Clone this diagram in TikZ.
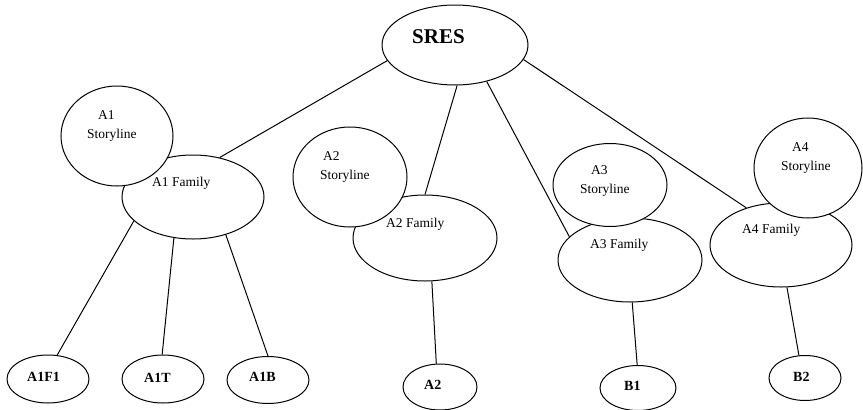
\documentclass[tikz,border=0pt]{standalone}
\usepackage{fontspec}
\setmainfont{Liberation Serif}
\usetikzlibrary{shapes.geometric}
\begin{document}
\begin{tikzpicture}[x=1pt,y=-1pt,
  oval/.style={draw,ellipse,line width=1pt,fill=white,inner sep=0pt},
  txt/.style={anchor=base west,inner sep=0pt,font=\fontsize{13.5}{15}\selectfont},
  btxt/.style={anchor=base west,inner sep=0pt,font=\fontsize{14}{16}\selectfont\bfseries},
  link/.style={line width=1pt}]
\useasboundingbox (0,0) rectangle (863,410);
% families
\node[oval,minimum width=146pt,minimum height=80pt] (sres) at (455,45) {};
\node[oval,minimum width=142pt,minimum height=84pt] (a1f) at (193,197) {};
\node[oval,minimum width=144pt,minimum height=86pt] (a2f) at (425,238) {};
\node[oval,minimum width=144pt,minimum height=84pt] (a3f) at (630,260) {};
\node[oval,minimum width=142pt,minimum height=84pt] (a4f) at (781,245) {};
% storylines
\node[oval,minimum width=112pt,minimum height=100pt] (a1s) at (117,136) {};
\node[oval,minimum width=114pt,minimum height=100pt] (a2s) at (350,177) {};
\node[oval,minimum width=114pt,minimum height=83pt] (a3s) at (610,185) {};
\node[oval,minimum width=108pt,minimum height=100pt] (a4s) at (808,168) {};
% leaves
\node[oval,minimum width=82pt,minimum height=48pt] (a1f1) at (48,379) {};
\node[oval,minimum width=82pt,minimum height=48pt] (a1t) at (163,379) {};
\node[oval,minimum width=82pt,minimum height=47pt] (a1b) at (268,380) {};
\node[oval,minimum width=74pt,minimum height=46pt] (a2) at (440,387) {};
\node[oval,minimum width=76pt,minimum height=45pt] (b1) at (638,388) {};
\node[oval,minimum width=72pt,minimum height=45pt] (b2) at (805,378) {};
% connectors
\draw[link] (sres.193) -- (a1f.56);
\draw[link] (sres.273) -- (a2f.90);
\draw[link] (sres.311) -- (a3f.159);
\draw[link] (sres.348) -- (a4f.133);
\draw[link] (a1f.202) -- (a1f1.69);
\draw[link] (a1f.245) -- (a1t.92);
\draw[link] (a1f.311) -- (a1b.90);
\draw[link] (a2f.279) -- (a2.99);
\draw[link] (a3f.273) -- (b1.92);
\draw[link] (a4f.278) -- (b2.105);
% texts
\node[anchor=base west,inner sep=0pt,font=\fontsize{21}{24}\selectfont\bfseries] (tsres) at (412,43) {SRES};
\node[txt] (t1a) at (98,119) {A1};
\node[txt] (t1b) at (87,138) {Storyline};
\node[txt] (t1f) at (152,186) {A1 Family};
\node[txt] (t2a) at (323,160) {A2};
\node[txt] (t2b) at (320,179) {Storyline};
\node[txt] (t2f) at (386,227) {A2 Family};
\node[txt] (t3a) at (591,174) {A3};
\node[txt] (t3b) at (580,193) {Storyline};
\node[txt] (t3f) at (590,248) {A3 Family};
\node[txt] (t4a) at (792,151) {A4};
\node[txt] (t4b) at (781,170) {Storyline};
\node[txt] (t4f) at (742,233) {A4 Family};
\node[btxt] (ta1f1) at (27,381) {A1F1};
\node[btxt] (ta1t) at (144,382) {A1T};
\node[btxt] (ta1b) at (249,381) {A1B};
\node[btxt] (ta2) at (424,389) {A2};
\node[btxt] (tb1) at (624,390) {B1};
\node[btxt] (tb2) at (793,381) {B2};
\end{tikzpicture}
\end{document}
